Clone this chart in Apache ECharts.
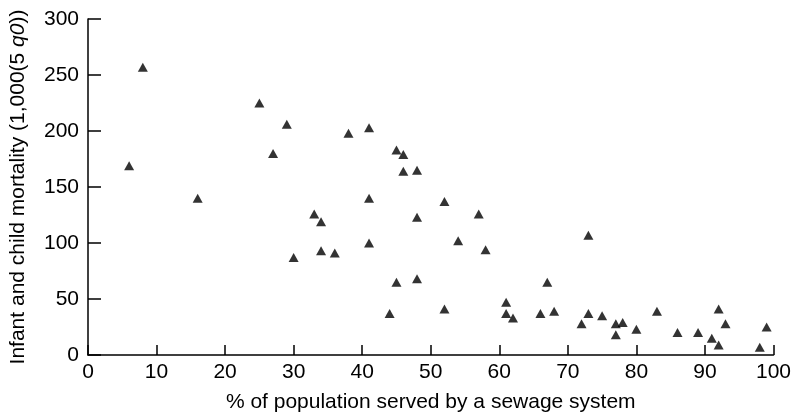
<!DOCTYPE html>
<html>
<head>
<meta charset="utf-8">
<script src="https://cdn.jsdelivr.net/npm/echarts@6/dist/echarts.min.js"></script>
<style>
  html, body { margin: 0; padding: 0; background: #fff; }
  #chart { width: 794px; height: 418px; }
</style>
</head>
<body>
<div id="chart"></div>
<script>
// % of population served by a sewage system
var sewagePct = [6, 8, 16, 25, 27, 29, 30, 33, 34, 34, 36, 38, 41, 41, 41, 44, 45, 45, 46, 46,
  48, 48, 48, 52, 52, 54, 57, 58, 61, 61, 62, 66, 67, 68, 72, 73, 73, 75, 77, 77,
  78, 80, 83, 86, 89, 91, 92, 92, 93, 98, 99];
// infant and child mortality (1,000 x 5q0)
var mortality = [169, 257, 140, 225, 180, 206, 87, 126, 119, 93, 91, 198, 203, 140, 100, 37, 183, 65, 179, 164,
  165, 123, 68, 137, 41, 102, 126, 94, 47, 37, 33, 37, 65, 39, 28, 107, 37, 35, 28, 18,
  29, 23, 39, 20, 20, 15, 41, 9, 28, 7, 25];

var xTicks = [0, 10, 20, 30, 40, 50, 60, 70, 80, 90, 100];
var yTicks = [0, 50, 100, 150, 200, 250, 300];

var points = [];
for (let i = 0; i < sewagePct.length; i++) {
  points.push([sewagePct[i], mortality[i]]);
}

var fontFam = "'Liberation Sans', Arial, Helvetica, sans-serif";
var fs = 21;
var chart = echarts.init(document.getElementById("chart"));
chart.setOption({
  animation: false,
  grid: { left: 87, right: 19, top: 19, bottom: 63 },
  xAxis: {
    type: "value",
    min: xTicks[0],
    max: xTicks[xTicks.length - 1],
    interval: 10,
    name: "% of population served by a sewage system",
    nameLocation: "middle",
    nameGap: 37,
    nameTextStyle: { color: "#000", fontSize: fs, fontFamily: fontFam },
    axisLine: { lineStyle: { color: "#000", width: 1.5 } },
    axisTick: { inside: true, length: 10, lineStyle: { color: "#000", width: 1.5 } },
    axisLabel: { color: "#000", fontSize: fs, fontFamily: fontFam, margin: 7 },
    splitLine: { show: false }
  },
  yAxis: {
    type: "value",
    min: yTicks[0],
    max: yTicks[yTicks.length - 1],
    interval: 50,
    name: "Infant and child mortality (1,000(5 {i|q0}))",
    nameLocation: "middle",
    nameGap: 59,
    nameTextStyle: {
      color: "#000", fontSize: fs, fontFamily: fontFam,
      rich: { i: { fontStyle: "italic", fontSize: fs, fontFamily: fontFam, color: "#000" } }
    },
    axisLine: { show: true, lineStyle: { color: "#000", width: 1.5 } },
    axisTick: { show: true, inside: true, length: 13, lineStyle: { color: "#000", width: 1.5 } },
    axisLabel: { color: "#000", fontSize: fs, fontFamily: fontFam, margin: 9 },
    splitLine: { show: false }
  },
  series: [
    {
      type: "scatter",
      symbol: "triangle",
      symbolSize: [10, 9],
      itemStyle: { color: "#000" },
      data: points
    }
  ]
});
</script>
</body>
</html>
